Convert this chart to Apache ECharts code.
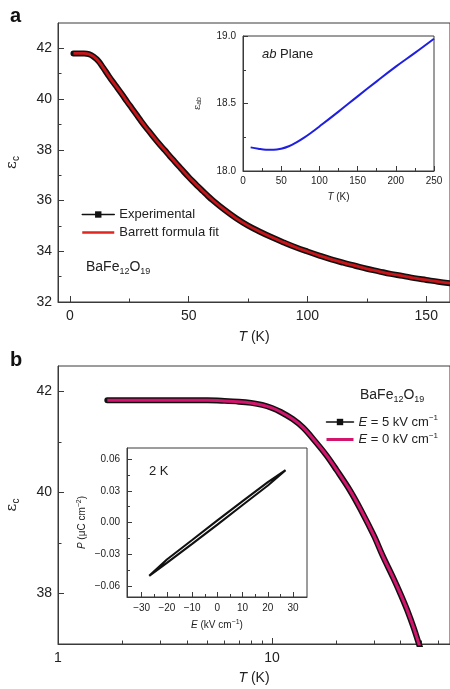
<!DOCTYPE html>
<html><head><meta charset="utf-8">
<script src="https://cdn.jsdelivr.net/npm/echarts@6/dist/echarts.min.js"></script>
<style>html,body{margin:0;padding:0;background:#fff}#c{width:450px;height:689px}</style>
</head><body><div id="c"></div>
<script>
// ---- Panel a: main ----
const aT   = [1.5, 4, 6, 8, 10, 12, 14, 16, 18, 20, 22, 24, 26, 28, 30, 32, 34, 36, 38, 40, 42, 44, 46, 48, 50, 52, 54, 56, 58, 60, 65, 70, 75, 80, 85, 90, 95, 100, 105, 110, 115, 120, 125, 130, 135, 140, 145, 150, 155, 160];
const aExp = [41.80, 41.80, 41.80, 41.77, 41.67, 41.50, 41.24, 40.96, 40.69, 40.44, 40.18, 39.91, 39.65, 39.39, 39.13, 38.88, 38.65, 38.41, 38.19, 37.98, 37.76, 37.55, 37.34, 37.13, 36.93, 36.74, 36.55, 36.37, 36.19, 36.02, 35.64, 35.30, 35.01, 34.77, 34.55, 34.35, 34.16, 33.99, 33.83, 33.68, 33.55, 33.43, 33.31, 33.21, 33.11, 33.03, 32.94, 32.87, 32.80, 32.74];
const aFit = [41.80, 41.80, 41.80, 41.77, 41.67, 41.50, 41.24, 40.96, 40.69, 40.44, 40.18, 39.91, 39.65, 39.39, 39.13, 38.88, 38.65, 38.41, 38.19, 37.98, 37.76, 37.55, 37.34, 37.13, 36.93, 36.74, 36.55, 36.37, 36.19, 36.02, 35.64, 35.30, 35.01, 34.77, 34.55, 34.35, 34.16, 33.99, 33.83, 33.68, 33.55, 33.43, 33.31, 33.21, 33.11, 33.03, 32.94, 32.87, 32.80, 32.74];
const aXTicks = [0, 50, 100, 150];
const aXMinor = [25, 75, 125];
const aYTicks = [32, 34, 36, 38, 40, 42];
const aYMinor = [33, 35, 37, 39, 41];
// ---- Panel a: inset (ab plane) ----
const abT   = [10, 20, 30, 40, 50, 60, 70, 80, 90, 100, 125, 150, 175, 200, 225, 250];
const abEps = [18.175, 18.165, 18.158, 18.157, 18.165, 18.183, 18.212, 18.247, 18.287, 18.33, 18.44, 18.553, 18.664, 18.773, 18.875, 18.98];
const abXTicks = [0, 50, 100, 150, 200, 250];
const abXMinor = [25, 75, 125, 175, 225];
const abYTicks = [18.0, 18.5, 19.0];
const abYMinor = [18.25, 18.75];
// ---- Panel b: main ----
const bT   = [1.7, 2, 2.5, 3, 4, 5, 6, 7, 8, 9, 10, 11, 12.5, 14, 16, 18, 20, 23, 26, 30, 33, 37, 40, 43, 46, 48.5, 50];
const bE5  = [41.82, 41.82, 41.82, 41.82, 41.82, 41.82, 41.81, 41.795, 41.77, 41.73, 41.67, 41.59, 41.45, 41.28, 41.00, 40.73, 40.45, 40.06, 39.66, 39.14, 38.74, 38.30, 37.98, 37.66, 37.32, 37.02, 36.85];
const bE0  = [41.82, 41.82, 41.82, 41.82, 41.82, 41.82, 41.81, 41.795, 41.77, 41.73, 41.67, 41.59, 41.45, 41.28, 41.00, 40.73, 40.45, 40.06, 39.66, 39.14, 38.74, 38.30, 37.98, 37.66, 37.32, 37.02, 36.85];
const bXTicks = [1, 10];
const bXMinor = [2, 3, 4, 5, 6, 7, 8, 9, 20, 30, 40, 50, 60];
const bYTicks = [38, 40, 42];
const bYMinor = [39, 41];
// ---- Panel b: inset (P-E loop at 2 K) ----
const peE     = [-27, -20, -10, 0, 10, 20, 27];
const peUp    = [-0.0505, -0.0382, -0.0202, -0.0020, 0.0166, 0.0350, 0.0495];
const peDown  = [-0.0505, -0.0350, -0.0166, 0.0020, 0.0202, 0.0382, 0.0495];
const peXTicks = [-30, -20, -10, 0, 10, 20, 30];
const peXMinor = [-25, -15, -5, 5, 15, 25];
const peYTicks = [-0.06, -0.03, 0, 0.03, 0.06];
const peYMinor = [-0.045, -0.015, 0.015, 0.045];

const FONT = '"Liberation Sans", Arial, Helvetica, sans-serif';
const AX = '#3a3a3a';
const TXT = '#222';

const xAxes = [], yAxes = [];
function addAxis(list, o) {
  const base = {
    type: o.type || 'value', gridIndex: o.grid, position: o.position,
    min: o.min, max: o.max,
    axisLine: {show: true, onZero: false, lineStyle: {color: AX, width: 1}},
    axisTick: {show: true, inside: true, length: o.tickLen || 6, customValues: o.major, lineStyle: {color: AX, width: 1}},
    axisLabel: {show: true, customValues: o.major, formatter: o.fmt, color: TXT, fontSize: o.fontSize || 14, fontFamily: FONT, margin: o.margin || 6},
    splitLine: {show: false}, minorTick: {show: false}
  };
  if (o.name) {
    base.name = o.name; base.nameLocation = 'middle'; base.nameGap = o.nameGap;
    if (o.nameRotate != null) base.nameRotate = o.nameRotate;
    base.nameTextStyle = Object.assign({color: TXT, fontSize: o.fontSize || 14, fontFamily: FONT}, o.nameStyle || {});
  }
  list.push(base);
  const idx = list.length - 1;
  list.push({
    type: o.type || 'value', gridIndex: o.grid, position: o.position,
    min: o.min, max: o.max,
    axisLine: {show: false, onZero: false},
    axisTick: {show: true, inside: true, length: o.minorLen || 3.5, customValues: o.minor, lineStyle: {color: AX, width: 1}},
    axisLabel: {show: false}, splitLine: {show: false}
  });
  return idx;
}
const minus = s => String(s).replace('-', '\u2212');

// Panel a main
const ax0 = addAxis(xAxes, {grid: 0, position: 'bottom', min: -5, max: 160, major: aXTicks, minor: aXMinor,
  fmt: v => v, margin: 7, name: '{i|T} (K)', nameGap: 28, nameStyle: {rich: {i: {fontStyle: 'italic', fontSize: 14, fontFamily: FONT, color: TXT}}}});
const ay0 = addAxis(yAxes, {grid: 0, position: 'left', min: 32, max: 43, major: aYTicks, minor: aYMinor,
  fmt: v => v, margin: 6, name: '{e|\u03b5}{s|c}', nameGap: 37, nameRotate: 90,
  nameStyle: {rich: {e: {fontSize: 15, fontFamily: '"DejaVu Serif", serif', color: TXT, lineHeight: 18}, s: {fontSize: 10, color: TXT, lineHeight: 10, verticalAlign: 'bottom'}}}});
// Panel a inset
const ax1 = addAxis(xAxes, {grid: 1, position: 'bottom', min: 0, max: 250, major: abXTicks, minor: abXMinor,
  fmt: v => v, fontSize: 10, margin: 5, tickLen: 5, minorLen: 3, name: '{i|T} (K)', nameGap: 21,
  nameStyle: {fontSize: 10, rich: {i: {fontStyle: 'italic', fontSize: 10, fontFamily: FONT, color: TXT}}}});
const ay1 = addAxis(yAxes, {grid: 1, position: 'left', min: 18, max: 19, major: abYTicks, minor: abYMinor,
  fmt: v => v.toFixed(1), fontSize: 10, margin: 7, tickLen: 5, minorLen: 3, name: '{e|\u03b5}{s|ab}', nameGap: 40, nameRotate: 90,
  nameStyle: {rich: {e: {fontSize: 10, fontFamily: '"DejaVu Serif", serif', color: TXT, lineHeight: 12}, s: {fontSize: 7, color: TXT, lineHeight: 7, verticalAlign: 'bottom'}}}});
// Panel b main
const ax2 = addAxis(xAxes, {type: 'log', grid: 2, position: 'bottom', min: 1, max: 68, major: bXTicks, minor: bXMinor,
  fmt: v => Math.round(v), margin: 7, name: '{i|T} (K)', nameGap: 27, nameStyle: {rich: {i: {fontStyle: 'italic', fontSize: 14, fontFamily: FONT, color: TXT}}}});
const ay2 = addAxis(yAxes, {grid: 2, position: 'left', min: 37, max: 42.5, major: bYTicks, minor: bYMinor,
  fmt: v => v, margin: 6, name: '{e|\u03b5}{s|c}', nameGap: 37, nameRotate: 90,
  nameStyle: {rich: {e: {fontSize: 15, fontFamily: '"DejaVu Serif", serif', color: TXT, lineHeight: 18}, s: {fontSize: 10, color: TXT, lineHeight: 10, verticalAlign: 'bottom'}}}});
// Panel b inset
const ax3 = addAxis(xAxes, {grid: 3, position: 'bottom', min: -35.8, max: 35.5, major: peXTicks, minor: peXMinor,
  fmt: v => minus(v), fontSize: 10, margin: 6, tickLen: 5, minorLen: 3, name: '{i|E} (kV cm{s|\u22121})', nameGap: 22,
  nameStyle: {fontSize: 10, rich: {i: {fontStyle: 'italic', fontSize: 10, fontFamily: FONT, color: TXT, lineHeight: 13}, s: {fontSize: 7, color: TXT, lineHeight: 7, verticalAlign: 'top'}}}});
const ay3 = addAxis(yAxes, {grid: 3, position: 'left', min: -0.0705, max: 0.0705, major: peYTicks, minor: peYMinor,
  fmt: v => minus(v.toFixed(2)), fontSize: 10, margin: 7, tickLen: 5, minorLen: 3, name: '{i|P} (\u03bcC cm{s|\u22122})', nameGap: 38, nameRotate: 90,
  nameStyle: {fontSize: 10, rich: {i: {fontStyle: 'italic', fontSize: 10, fontFamily: FONT, color: TXT, lineHeight: 13}, s: {fontSize: 7, color: TXT, lineHeight: 7, verticalAlign: 'top'}}}});

const zip = (xs, ys) => xs.map((x, i) => [x, ys[i]]);
const loop = zip(peE, peUp).concat(zip(peE.slice().reverse(), peDown.slice().reverse()));

const grid = (l, t, w, h, bg) => ({left: l, top: t, width: w, height: h, show: true, borderColor: AX, borderWidth: 1, backgroundColor: bg || 'transparent', containLabel: false, outerBoundsMode: 'none'});
const HIDE = {color: 'rgba(0,0,0,0)', borderColor: 'rgba(0,0,0,0)', borderWidth: 0, opacity: 0};

const option = {
  animation: false,
  backgroundColor: '#fff',
  textStyle: {fontFamily: FONT},
  grid: [grid(58, 23, 392, 279), grid(243, 36, 191, 135, '#fff'), grid(58, 366, 392, 278), grid(127, 448, 180, 149, '#fff')],
  xAxis: xAxes,
  yAxis: yAxes,
  legend: [
    {
      left: 81, top: 208, padding: 0, orient: 'vertical', itemGap: 5, itemWidth: 32, itemHeight: 8,
      textStyle: {fontSize: 13, color: TXT, fontFamily: FONT},
      data: [
        {name: 'Experimental', lineStyle: {width: 1.5, color: '#111'}, itemStyle: {color: '#111'}},
        {name: 'Barrett formula fit', lineStyle: {width: 2.5, color: '#e0261f'}, itemStyle: HIDE}
      ]
    },
    {
      left: 325, top: 414, padding: 0, orient: 'vertical', itemGap: 3, itemWidth: 27, itemHeight: 8,
      textStyle: {fontSize: 13, color: TXT, fontFamily: FONT,
        rich: {i: {fontStyle: 'italic', fontSize: 13, fontFamily: FONT, color: TXT, lineHeight: 16}, s: {fontSize: 8, fontFamily: FONT, color: TXT, lineHeight: 8, verticalAlign: 'top'}}},
      formatter: n => n === 'E5' ? '{i|E} = 5 kV cm{s|\u22121}' : '{i|E} = 0 kV cm{s|\u22121}',
      data: [
        {name: 'E5', lineStyle: {width: 1.5, color: '#111'}, itemStyle: {color: '#111'}},
        {name: 'E0', lineStyle: {width: 3, color: '#d4156e'}, itemStyle: HIDE}
      ]
    }
  ],
  series: [
    {name: 'Experimental', type: 'line', xAxisIndex: ax0, yAxisIndex: ay0, data: zip(aT, aExp), smooth: 0.4,
      symbol: 'rect', symbolSize: 5, showSymbol: false, lineStyle: {color: '#111', width: 6, join: 'round', cap: 'round'}, itemStyle: {color: '#111'}, z: 3},
    {name: 'Barrett formula fit', type: 'line', xAxisIndex: ax0, yAxisIndex: ay0, data: zip(aT, aFit), smooth: 0.4,
      symbol: 'none', lineStyle: {color: '#c8151a', width: 2.8, join: 'round'}, itemStyle: {color: '#e0261f'}, z: 4},
    {name: 'ab', type: 'line', xAxisIndex: ax1, yAxisIndex: ay1, data: zip(abT, abEps), smooth: 0.4,
      symbol: 'none', lineStyle: {color: '#1f1fe0', width: 2, join: 'round'}, z: 4},
    {name: 'E5', type: 'line', xAxisIndex: ax2, yAxisIndex: ay2, data: zip(bT, bE5), smooth: 0.35,
      symbol: 'rect', symbolSize: 5, showSymbol: false, lineStyle: {color: '#111', width: 6, join: 'round', cap: 'round'}, itemStyle: {color: '#111'}, z: 3},
    {name: 'E0', type: 'line', xAxisIndex: ax2, yAxisIndex: ay2, data: zip(bT, bE0), smooth: 0.35,
      symbol: 'none', lineStyle: {color: '#d4156e', width: 3, join: 'round'}, itemStyle: {color: '#d4156e'}, z: 4},
    {name: 'PE', type: 'line', xAxisIndex: ax3, yAxisIndex: ay3, data: loop, smooth: false,
      symbol: 'none', lineStyle: {color: '#111', width: 2.1}, z: 4}
  ],
  graphic: [
    {type: 'text', left: 10, top: 6, style: {text: 'a', font: 'bold 20px ' + FONT, fill: '#111'}},
    {type: 'text', left: 10, top: 350, style: {text: 'b', font: 'bold 20px ' + FONT, fill: '#111'}},
    {type: 'text', left: 262, top: 48, style: {text: '{i|ab} Plane', fontSize: 13, fontFamily: FONT, fill: TXT,
      rich: {i: {fontStyle: 'italic', fontSize: 13, fontFamily: FONT, fill: TXT}}}},
    {type: 'text', left: 86, top: 260, style: {text: '{n|BaFe}{s|12}{n|O}{s|19}', fill: TXT,
      rich: {n: {fontSize: 14, fontFamily: FONT, lineHeight: 18, fill: TXT}, s: {fontSize: 9, fontFamily: FONT, lineHeight: 9, verticalAlign: 'bottom', fill: TXT}}}},
    {type: 'text', left: 360, top: 388, style: {text: '{n|BaFe}{s|12}{n|O}{s|19}', fill: TXT,
      rich: {n: {fontSize: 14, fontFamily: FONT, lineHeight: 18, fill: TXT}, s: {fontSize: 9, fontFamily: FONT, lineHeight: 9, verticalAlign: 'bottom', fill: TXT}}}},
    {type: 'text', left: 149, top: 465, style: {text: '2 K', fontSize: 13, fontFamily: FONT, fill: TXT}}
  ]
};
const chart = echarts.init(document.getElementById('c'), null, {renderer: 'canvas'});
chart.setOption(option);
</script>
</body></html>
